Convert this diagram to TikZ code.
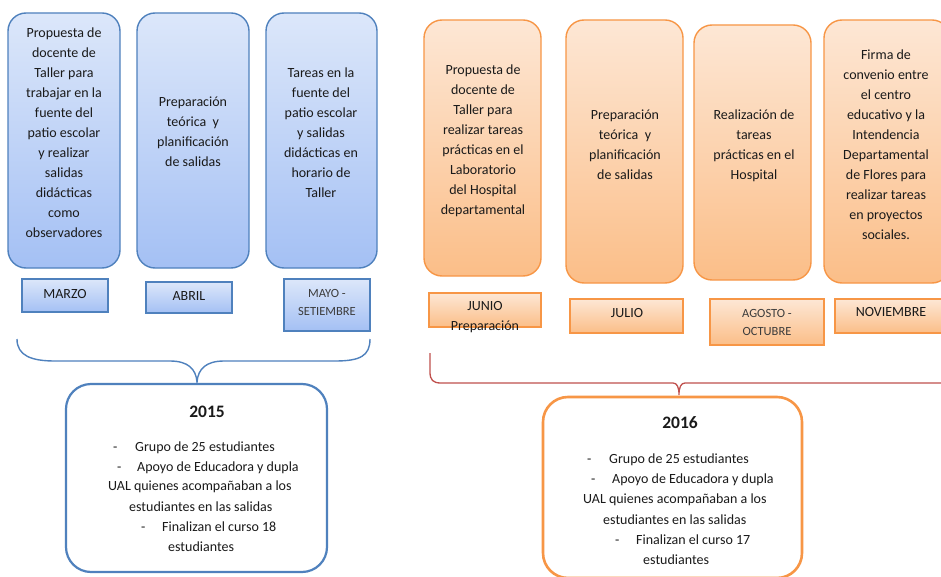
\documentclass[tikz,border=0pt]{standalone}
\usepackage{fontspec}
\setmainfont{Carlito}
\definecolor{bedge}{HTML}{4F81BD}
\definecolor{btop}{HTML}{DCE7FA}
\definecolor{bbot}{HTML}{A4C0F4}
\definecolor{oedge}{HTML}{F79646}
\definecolor{otop}{HTML}{FDE7D5}
\definecolor{obot}{HTML}{FBBE88}
\definecolor{redline}{HTML}{C0504D}
\definecolor{txtc}{HTML}{1A1A1A}
\definecolor{greytxt}{HTML}{3C3C3C}
\begin{document}
\begin{tikzpicture}[x=1pt,y=-1pt,
  bluetall/.style={draw=bedge,line width=1.4pt,rounded corners=18pt,top color=btop,bottom color=bbot,inner sep=0pt},
  bluemonth/.style={draw=bedge,line width=1.4pt,top color=btop,bottom color=bbot,inner sep=0pt},
  orangetall/.style={draw=oedge,line width=1.4pt,rounded corners=18pt,top color=otop,bottom color=obot,inner sep=0pt},
  orangemonth/.style={draw=oedge,line width=1.4pt,top color=otop,bottom color=obot,inner sep=0pt},
  txt/.style={font=\fontsize{14}{20}\selectfont,align=center,inner sep=0pt,text=txtc},
  smalltxt/.style={font=\fontsize{12.5}{18}\selectfont,align=center,inner sep=0pt,text=greytxt},
  linetxt/.style={font=\fontsize{14}{20}\selectfont,anchor=west,inner sep=0pt,text=txtc},
  yeartxt/.style={font=\fontsize{17.5}{20}\selectfont\bfseries,inner sep=0pt,text=txtc},
  bluebrace/.style={draw=bedge,line width=1.4pt},
  redbrace/.style={draw=redline,line width=1.3pt},
]
\clip (0,0) rectangle (941,577);
\fill[white] (0,0) rectangle (941,577);

% ---------- 2015 (blue) ----------
\node[bluetall,minimum width=112pt,minimum height=255pt] (b1) at (64,140.5) {};
\node[bluetall,minimum width=112pt,minimum height=255pt] (b2) at (193,140.5) {};
\node[bluetall,minimum width=111pt,minimum height=255pt] (b3) at (321.5,140.5) {};
\node[txt] (b1t) at (64,133) {Propuesta de\\docente de\\Taller para\\trabajar en la\\fuente del\\patio escolar\\y realizar\\salidas\\didácticas\\como\\observadores};
\node[txt] (b2t) at (193,132) {Preparación\\teórica\ \ y\\planificación\\de salidas};
\node[txt] (b3t) at (321,133) {Tareas en la\\fuente del\\patio escolar\\y salidas\\didácticas en\\horario de\\Taller};

\node[bluemonth,minimum width=86pt,minimum height=33pt] (m1) at (65,295.5) {};
\node[txt] (m1t) at (65,294) {MARZO};
\node[bluemonth,minimum width=86pt,minimum height=31pt] (m2) at (189,297.5) {};
\node[txt] (m2t) at (189,296) {ABRIL};
\node[bluemonth,minimum width=86pt,minimum height=52pt] (m3) at (327,305) {};
\node[smalltxt] (m3t) at (327,302) {MAYO -\\SETIEMBRE};

\coordinate (bl) at (17,339);
\coordinate (br) at (370,339);
\coordinate (btip) at (197,382);
\draw[bluebrace] (bl) .. controls (17,356) and (32,361) .. (55,361) -- (170,361)
  .. controls (188,361) and (196,369) .. (btip)
  .. controls (198,369) and (206,361) .. (224,361) -- (335,361)
  .. controls (360,361) and (370,356) .. (br);

\node[draw=bedge,line width=2.2pt,rounded corners=25pt,fill=white,minimum width=261pt,minimum height=188pt,inner sep=0pt] (y15) at (196.5,478) {};
\node[yeartxt] (y15t) at (207,412) {2015};
\node[linetxt] (l15a) at (113,448) {\makebox[22pt][l]{-}Grupo de 25 estudiantes};
\node[linetxt] (l15b) at (117,468) {\makebox[20pt][l]{-}Apoyo de Educadora y dupla};
\node[linetxt] (l15c) at (108,487) {UAL quienes acompañaban a los};
\node[linetxt] (l15d) at (129,507) {estudiantes en las salidas};
\node[linetxt] (l15e) at (141,527) {\makebox[21pt][l]{-}Finalizan el curso 18};
\node[linetxt] (l15f) at (168,547) {estudiantes};

% ---------- 2016 (orange) ----------
\node[orangetall,minimum width=117pt,minimum height=256pt] (o1) at (482.5,148) {};
\node[orangetall,minimum width=117pt,minimum height=263pt] (o2) at (624.5,151.5) {};
\node[orangetall,minimum width=117pt,minimum height=255pt] (o3) at (752.5,152.5) {};
\node[orangetall,minimum width=126pt,minimum height=263pt] (o4) at (887,151.5) {};
\node[txt] (o1t) at (483,141) {Propuesta de\\docente de\\Taller para\\realizar tareas\\prácticas en el\\Laboratorio\\del Hospital\\departamental};
\node[txt] (o2t) at (625,145) {Preparación\\teórica\ \ y\\planificación\\de salidas};
\node[txt] (o3t) at (754,146) {Realización de\\tareas\\prácticas en el\\Hospital};
\node[txt] (o4t) at (886,145) {Firma de\\convenio entre\\el centro\\educativo y la\\Intendencia\\Departamental\\de Flores para\\realizar tareas\\en proyectos\\sociales.};

\node[orangemonth,minimum width=112pt,minimum height=34pt] (n1) at (485,310) {};
\node[txt] (n1t) at (485,317) {JUNIO\\Preparación};
\node[orangemonth,minimum width=113pt,minimum height=34pt] (n2) at (626.5,316) {};
\node[txt] (n2t) at (627,313) {JULIO};
\node[orangemonth,minimum width=114pt,minimum height=46pt] (n3) at (767,322) {};
\node[smalltxt] (n3t) at (767,322) {AGOSTO -\\OCTUBRE};
\node[orangemonth,minimum width=113pt,minimum height=34pt] (n4) at (891.5,316) {};
\node[txt] (n4t) at (891,312) {NOVIEMBRE};

\coordinate (rl) at (430,353);
\coordinate (rr) at (945,383);
\coordinate (rtip) at (679,395);
\draw[redbrace] (rl) -- (430,372) .. controls (430,380) and (433,383) .. (441,383) -- (673,383)
  .. controls (677,383) and (679,387) .. (rtip)
  .. controls (679,387) and (681,383) .. (685,383) -- (rr);

\node[draw=oedge,line width=2.6pt,rounded corners=25pt,fill=white,minimum width=259pt,minimum height=181pt,inner sep=0pt] (y16) at (672.5,487.5) {};
\node[yeartxt] (y16t) at (680,423) {2016};
\node[linetxt] (l16a) at (587,460) {\makebox[22pt][l]{-}Grupo de 25 estudiantes};
\node[linetxt] (l16b) at (591,480) {\makebox[21pt][l]{-}Apoyo de Educadora y dupla};
\node[linetxt] (l16c) at (583,500) {UAL quienes acompañaban a los};
\node[linetxt] (l16d) at (603,520) {estudiantes en las salidas};
\node[linetxt] (l16e) at (615,540) {\makebox[21pt][l]{-}Finalizan el curso 17};
\node[linetxt] (l16f) at (643,560) {estudiantes};
\end{tikzpicture}
\end{document}
